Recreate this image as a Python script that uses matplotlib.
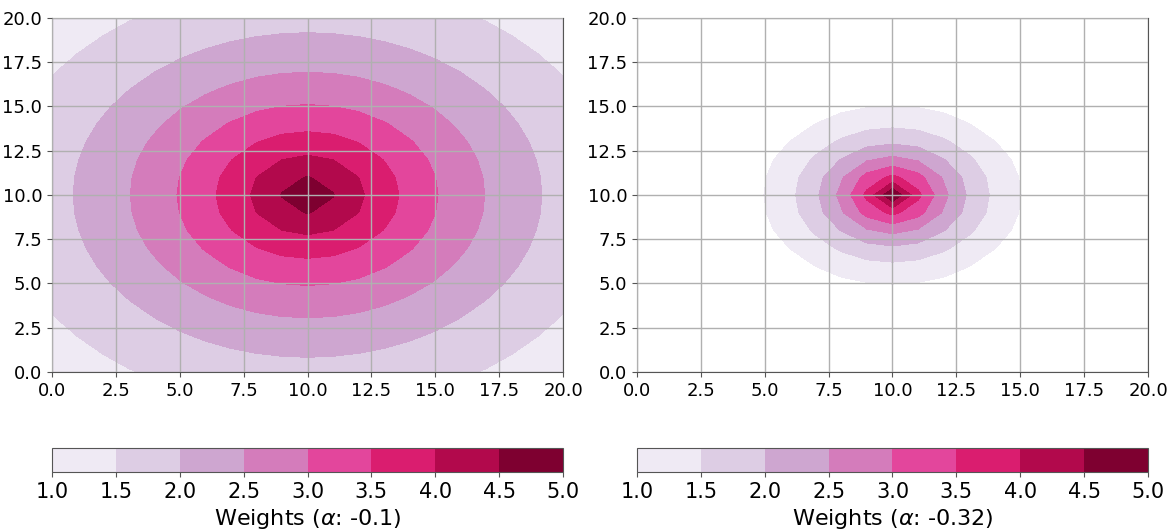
import numpy as np
import matplotlib
matplotlib.use("Agg")
import matplotlib.pyplot as plt

# decay rates shown side by side
alphas = [-0.1, -0.32]
peak_weight = 5.0
centre = (10.0, 10.0)
grid_x = np.arange(0, 21)
grid_y = np.arange(0, 21)
levels = np.arange(1.0, 5.01, 0.5)
ticks = np.arange(0.0, 20.01, 2.5)

xx, yy = np.meshgrid(grid_x, grid_y)
dist = np.hypot(xx - centre[0], yy - centre[1])

fig = plt.figure(figsize=(11.73, 5.29), dpi=100)
ax_pos = [(0.0443, 0.2968, 0.4357, 0.6692), (0.543, 0.2968, 0.4357, 0.6692)]
cb_pos = [(0.0443, 0.1078, 0.4357, 0.0454), (0.543, 0.1078, 0.4357, 0.0454)]

for alpha, apos, cpos in zip(alphas, ax_pos, cb_pos):
    weights = peak_weight * np.exp(alpha * dist)
    ax = fig.add_axes(apos)
    cs = ax.contourf(xx, yy, weights, levels=levels, cmap="PuRd")
    ax.set_xlim(0, 20)
    ax.set_ylim(0, 20)
    ax.set_xticks(ticks)
    ax.set_yticks(ticks)
    ax.grid(True, color="#b0b0b0", linewidth=1.0)
    ax.set_axisbelow(False)
    ax.tick_params(labelsize=13, color="#555555")
    for sp in ax.spines.values():
        sp.set_color("#555555")

    cax = fig.add_axes(cpos)
    cb = fig.colorbar(cs, cax=cax, orientation="horizontal")
    cb.set_ticks(levels)
    cb.ax.tick_params(labelsize=15, color="#555555")
    cb.outline.set_edgecolor("#555555")
    cb.set_label(rf"Weights ($\alpha$: {alpha})", fontsize=16)

fig.savefig("out.png", dpi=100)
